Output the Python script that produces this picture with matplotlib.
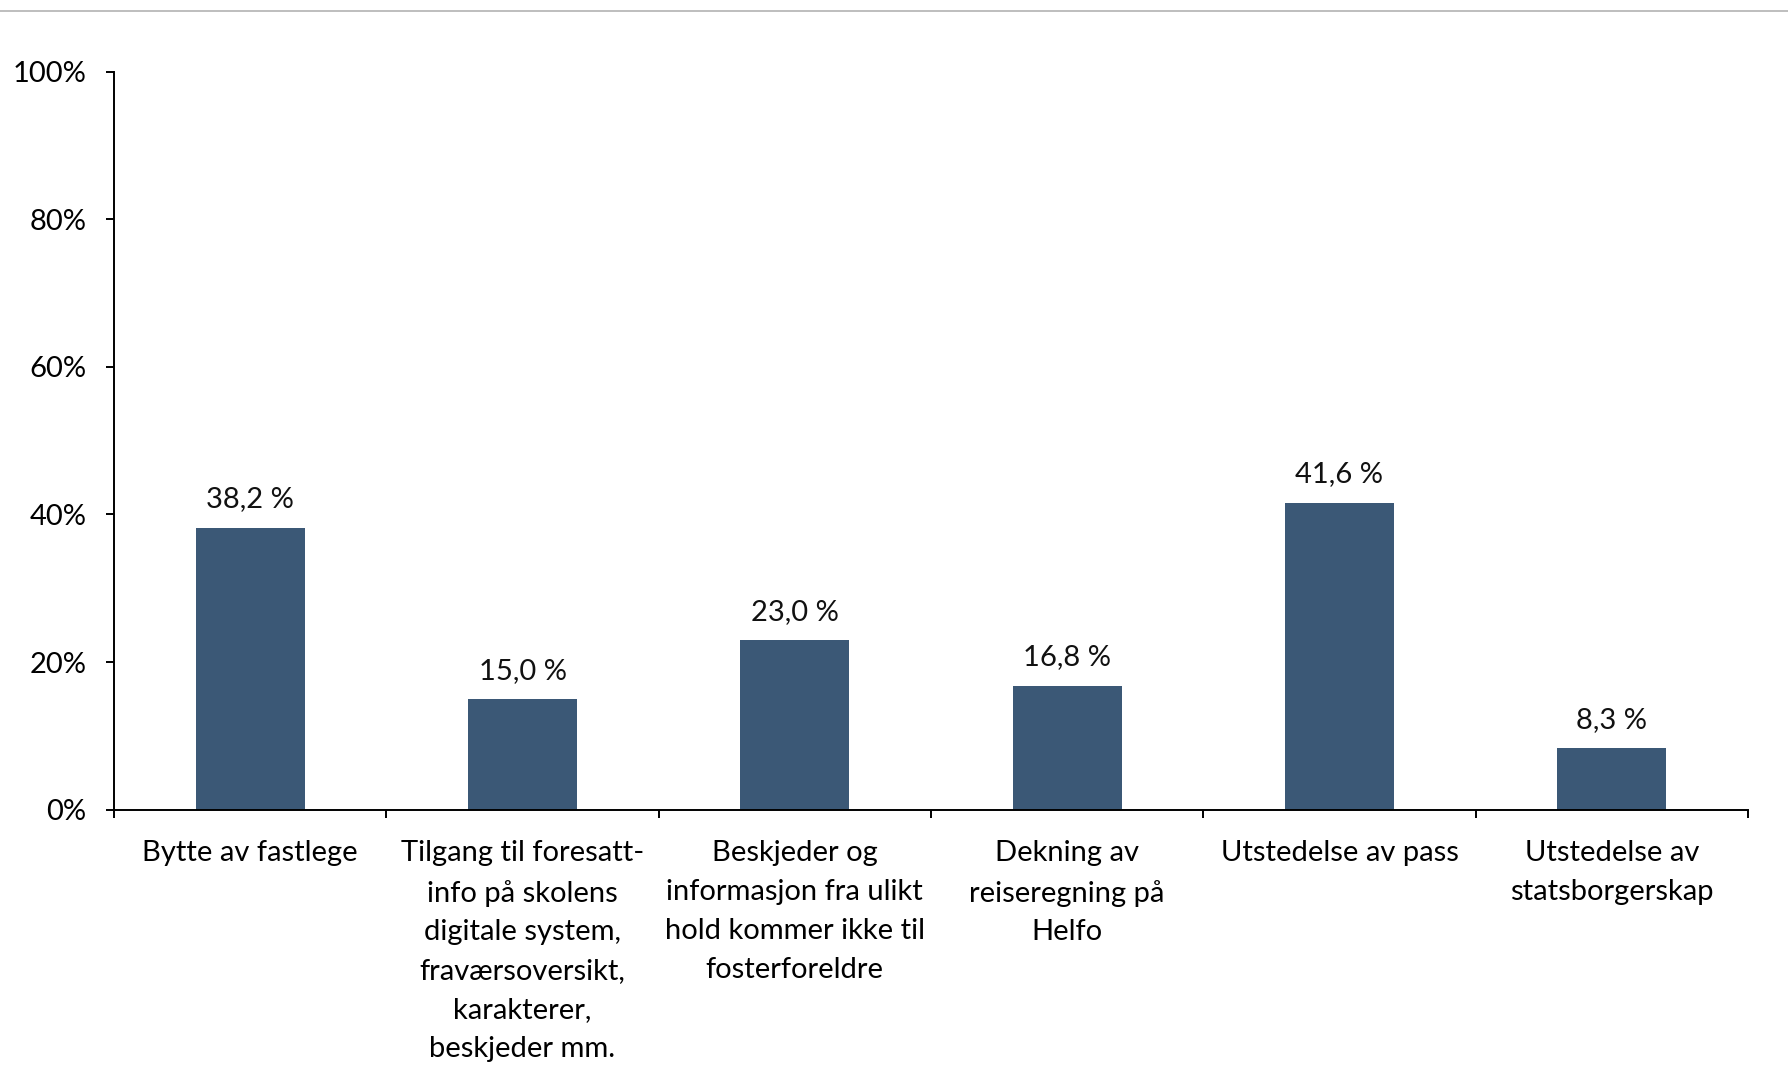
import matplotlib
matplotlib.use("Agg")
import matplotlib.pyplot as plt
from matplotlib.lines import Line2D
import numpy as np

categories = [
    "Bytte av fastlege",
    "Tilgang til foresatt-\ninfo på skolens\ndigitale system,\nfraværsoversikt,\nkarakterer,\nbeskjeder mm.",
    "Beskjeder og\ninformasjon fra ulikt\nhold kommer ikke til\nfosterforeldre",
    "Dekning av\nreiseregning på\nHelfo",
    "Utstedelse av pass",
    "Utstedelse av\nstatsborgerskap",
]
values = [38.2, 15.0, 23.0, 16.8, 41.6, 8.3]
yticks = [0, 20, 40, 60, 80, 100]
ytick_labels = ["0%", "20%", "40%", "60%", "80%", "100%"]

plt.rcParams['font.family'] = ['Lato', 'DejaVu Sans']
FS = 21

fig = plt.figure(figsize=(17.88, 10.91), dpi=100)
ax = fig.add_axes([0.0638, 0.2579, 0.9776 - 0.0638, 0.9342 - 0.2579])

x = np.arange(len(categories))
bars = ax.bar(x, values, width=0.4, color="#3B5876", zorder=2)

for xi, v in zip(x, values):
    ax.annotate(f"{v:.1f} %".replace(".", ","), (xi, v), xytext=(0, 11),
                textcoords="offset points", ha="center", va="bottom",
                fontsize=FS, color="#111111")

ax.set_xlim(-0.5, len(categories) - 0.5)
ax.set_ylim(0, 100)
ax.set_yticks(yticks)
ax.set_yticklabels(ytick_labels, fontsize=FS)

ax.set_xticks(np.arange(-0.5, len(categories), 1.0))
ax.set_xticklabels([])
ax.set_xticks(x, minor=True)
ax.set_xticklabels(categories, minor=True, fontsize=FS, linespacing=1.61,
                   va="top", ha="center")
ax.tick_params(axis="x", which="minor", length=0, pad=22)
ax.tick_params(axis="x", which="major", direction="out", length=6, width=1.4, color="black")
ax.tick_params(axis="y", direction="out", length=6, width=1.4, pad=14, colors="black")

for s in ["top", "right"]:
    ax.spines[s].set_visible(False)
for s in ["left", "bottom"]:
    ax.spines[s].set_linewidth(1.4)
    ax.spines[s].set_color("black")

fig.add_artist(Line2D([0, 1], [1 - 11 / 1091, 1 - 11 / 1091], color="#b3b3b3",
                      linewidth=1.2, transform=fig.transFigure))

fig.savefig("out.png", dpi=100, facecolor="white")
